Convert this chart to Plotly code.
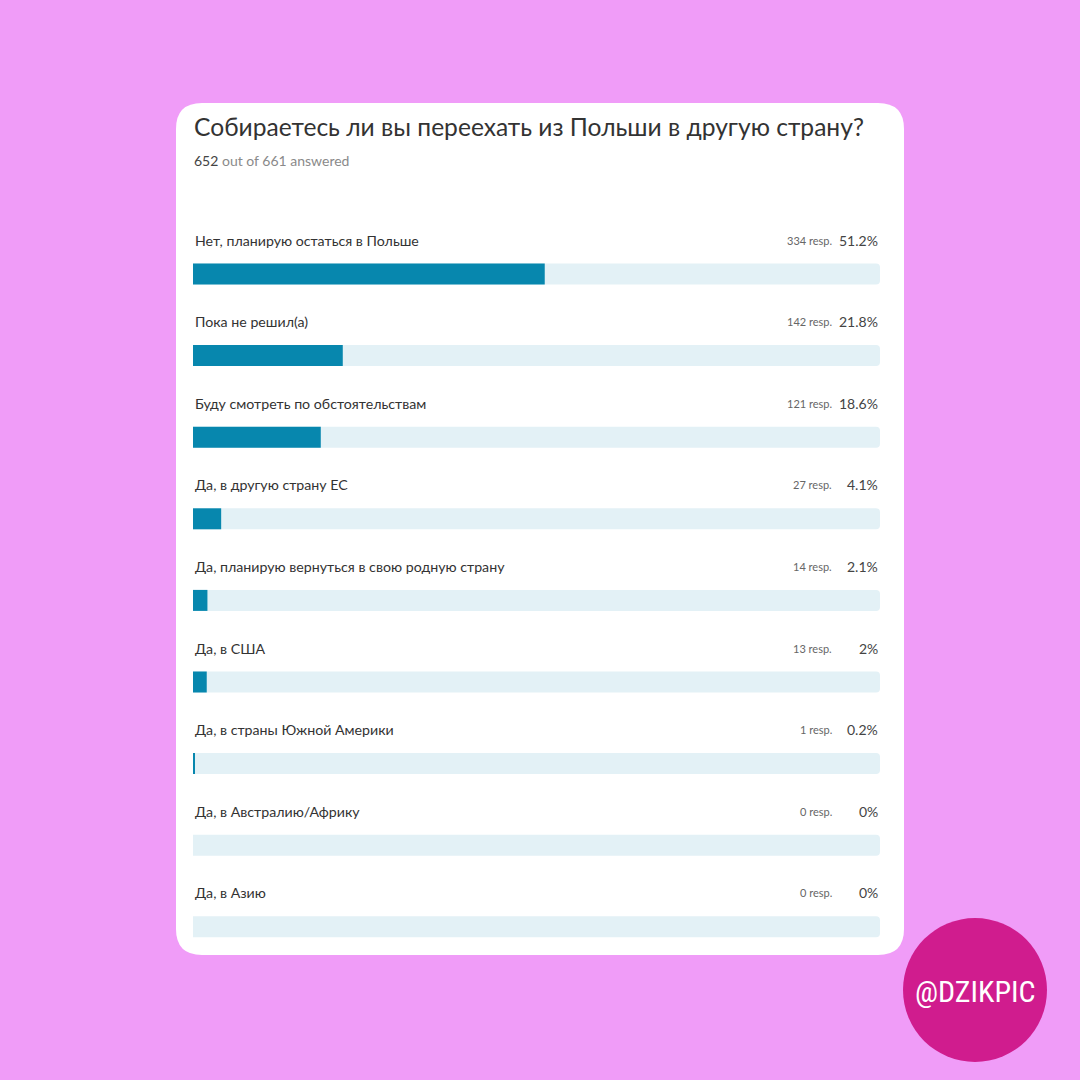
"""
    Poll results card: moving out of Poland.
"""

import plotly.graph_objects as go


QUESTION = 'Собираетесь ли вы переехать из Польши в другую страну?'
ANSWERED = 652
TOTAL = 661
ANSWERS = [
    'Нет, планирую остаться в Польше',
    'Пока не решил(а)',
    'Буду смотреть по обстоятельствам',
    'Да, в другую страну ЕС',
    'Да, планирую вернуться в свою родную страну',
    'Да, в США',
    'Да, в страны Южной Америки',
    'Да, в Австралию/Африку',
    'Да, в Азию',
]
RESPONSES = [334, 142, 121, 27, 14, 13, 1, 0, 0]
PERCENTS = [51.2, 21.8, 18.6, 4.1, 2.1, 2, 0.2, 0, 0]
HANDLE = '@DZIKPIC'

PINK = '#F09CF8'
BAR_COLOR = '#0787AE'
TRACK_COLOR = '#E3F1F6'
TEXT_COLOR = '#333333'
FONT = 'Lato, Noto Sans, sans-serif'
SIZE = 1080


def px_x(pixel):
    """Pixel column to paper coordinate."""
    return pixel / SIZE


def px_y(pixel):
    """Pixel row to paper coordinate."""
    return 1 - pixel / SIZE


def rounded_rect(x0, y0, x1, y1, r):
    """SVG path of a rounded rectangle in paper coordinates (pixels in)."""
    a, b, c, d = px_x(x0), px_y(y0), px_x(x1), px_y(y1)
    rr = r / SIZE
    return (
        f'M {a + rr},{b} L {c - rr},{b} Q {c},{b} {c},{b - rr} '
        f'L {c},{d + rr} Q {c},{d} {c - rr},{d} '
        f'L {a + rr},{d} Q {a},{d} {a},{d + rr} '
        f'L {a},{b - rr} Q {a},{b} {a + rr},{b} Z'
    )


# row geometry (pixels): first bar centre, row pitch, bar track ends
first_row = 274
pitch = 81.6
bar_left, bar_right = 193, 880
x_scale = 100 / (bar_right - bar_left)
rows = list(range(len(ANSWERS)))

fig = go.Figure()
fig.add_trace(go.Bar(
    x=[100] * len(ANSWERS),
    y=rows,
    orientation='h',
    width=21 / pitch,
    marker={'color': TRACK_COLOR, 'line': {'width': 0}},
    hoverinfo='skip'
))
fig.add_trace(go.Bar(
    x=PERCENTS,
    y=rows,
    orientation='h',
    width=21 / pitch,
    marker={'color': BAR_COLOR, 'line': {'width': 0}},
    hoverinfo='skip'
))

annotations = [
    {
        'x': px_x(192), 'y': px_y(127), 'xref': 'paper', 'yref': 'paper',
        'text': QUESTION, 'showarrow': False, 'xanchor': 'left',
        'yanchor': 'middle',
        'font': {'size': 24.6, 'color': TEXT_COLOR, 'family': FONT}
    },
    {
        'x': px_x(192), 'y': px_y(160), 'xref': 'paper', 'yref': 'paper',
        'text': (f'<span style="color:#444444">{ANSWERED}</span>'
                 f' out of {TOTAL} answered'),
        'showarrow': False, 'xanchor': 'left', 'yanchor': 'middle',
        'font': {'size': 14, 'color': '#8a8a8a', 'family': FONT}
    },
    {
        'x': 0.5 * (px_x(903) + px_x(1047)), 'y': px_y(991),
        'xref': 'paper', 'yref': 'paper', 'text': HANDLE,
        'showarrow': False, 'xanchor': 'center', 'yanchor': 'middle',
        'font': {'size': 30, 'color': 'white',
                 'family': 'Roboto Condensed, DejaVu Sans Condensed, Roboto'}
    },
]
for i, (label, resp, pct) in enumerate(zip(ANSWERS, RESPONSES, PERCENTS)):
    annotations.append({
        'x': 0, 'y': i, 'yshift': 34, 'text': label, 'showarrow': False,
        'xanchor': 'left', 'yanchor': 'middle',
        'font': {'size': 14.2, 'color': TEXT_COLOR, 'family': FONT}
    })
    annotations.append({
        'x': 100, 'y': i, 'yshift': 34, 'xshift': -46,
        'text': f'{resp} resp.', 'showarrow': False,
        'xanchor': 'right', 'yanchor': 'middle',
        'font': {'size': 11, 'color': '#666666', 'family': FONT}
    })
    annotations.append({
        'x': 100, 'y': i, 'yshift': 34, 'text': f'{pct:g}%',
        'showarrow': False, 'xanchor': 'right', 'yanchor': 'middle',
        'font': {'size': 14, 'color': '#444444', 'family': FONT}
    })

fig.update_layout(
    width=SIZE,
    height=SIZE,
    margin={'l': 0, 'r': 0, 't': 0, 'b': 0},
    paper_bgcolor=PINK,
    plot_bgcolor='rgba(0,0,0,0)',
    barmode='overlay',
    barcornerradius=4,
    showlegend=False,
    xaxis={
        'range': [-bar_left * x_scale, (SIZE - bar_left) * x_scale],
        'visible': False, 'fixedrange': True
    },
    yaxis={
        'range': [(SIZE - first_row) / pitch, -first_row / pitch],
        'visible': False, 'fixedrange': True
    },
    shapes=[
        {
            'type': 'path', 'xref': 'paper', 'yref': 'paper',
            'path': rounded_rect(176, 103, 904, 955, 26),
            'fillcolor': 'white', 'line': {'width': 0}, 'layer': 'below'
        },
        {
            'type': 'circle', 'xref': 'paper', 'yref': 'paper',
            'x0': px_x(903), 'x1': px_x(1047),
            'y0': px_y(1062), 'y1': px_y(918),
            'fillcolor': '#D01C8E', 'line': {'width': 0}, 'layer': 'below'
        },
    ],
    annotations=annotations
)

# page body has a default 8px margin, drop it so the card sits in place
fig.write_html(
    'out.html',
    config={'displayModeBar': False},
    post_script="document.body.style.margin='0';"
)
